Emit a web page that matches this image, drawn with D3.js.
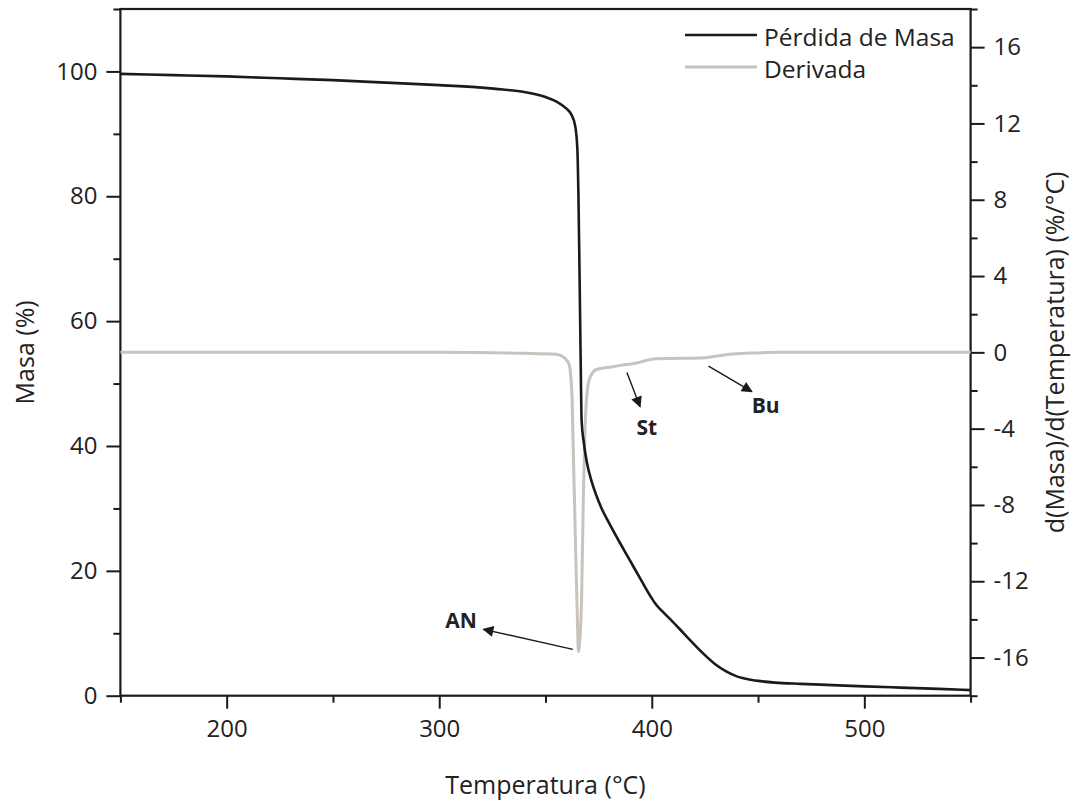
<!DOCTYPE html>
<html>
<head>
<meta charset="utf-8">
<script src="https://cdn.jsdelivr.net/npm/d3@7"></script>
<style>
  body { margin: 0; background: #fff; }
  text { font-family: "Open Sans", sans-serif; fill: #222; }
</style>
</head>
<body>
<svg id="chart" width="1074" height="807"></svg>
<script>
// curva de pérdida de masa (TGA)
var v_MassT = [150, 175, 200, 225, 250, 275, 300, 320, 330, 340, 350, 355, 360, 362, 364, 365, 365.5, 366, 366.5, 367,
               368, 369.5, 372, 376, 380, 385, 390, 395, 400, 402, 405, 410, 415, 420, 425, 430, 435, 440, 446, 452,
               458, 470, 485, 500, 517, 535, 550];
var v_MassV = [99.6, 99.4, 99.2, 98.9, 98.6, 98.2, 97.8, 97.4, 97.1, 96.7, 95.9, 95.2, 94.0, 93.2, 91.2, 87.5, 80, 68, 55, 44,
               40.6, 37.3, 34.0, 30.3, 27.6, 24.5, 21.5, 18.5, 15.6, 14.6, 13.5, 11.8, 10.0, 8.2, 6.5, 5.0, 3.9, 3.1, 2.6, 2.3,
               2.1, 1.9, 1.7, 1.5, 1.3, 1.1, 0.9];

// derivada (DTG)
var v_DerivT = [150, 200, 250, 300, 340, 355, 359, 361, 362, 362.5, 363, 364, 365, 365.5, 366, 367, 367.8, 368.6, 369.4, 371,
                374, 380, 386, 391, 395, 399, 402, 410, 423, 430, 438, 450, 460, 500, 550];
var v_DerivV = [0, 0, 0, 0, -0.05, -0.1, -0.3, -0.6, -1.4, -2.4, -4.8, -9.5, -14.0, -15.7, -15.3, -12.8, -7.6, -4.1, -2.3, -1.3,
                -0.9, -0.78, -0.67, -0.6, -0.5, -0.38, -0.33, -0.32, -0.3, -0.2, -0.09, -0.03, 0, 0, 0];

// ticks
var v_XMajor  = [200, 300, 400, 500];
var v_XMinor  = [150, 250, 350, 450, 550];
var v_YLMajor = [0, 20, 40, 60, 80, 100];
var v_YLMinor = [10, 30, 50, 70, 90, 110];
var v_YRMajor = [-16, -12, -8, -4, 0, 4, 8, 12, 16];
var v_YRMinor = [-18, -14, -10, -6, -2, 2, 6, 10, 14, 18];

// anotaciones (en unidades de temperatura / derivada)
var v_AnnoLabel = ["AN", "St", "Bu"];
var v_AnnoTail  = [[362.9, -15.57], [388.3, -1.05], [426.7, -0.72]];
var v_AnnoHead  = [[320.8, -14.52], [394.5, -2.85], [447.1, -2.06]];
var v_AnnoText  = [[310.3, -14.45], [397.7, -4.33], [453.6, -3.18]];

var v_Legend = ["Pérdida de Masa", "Derivada"];

var v_Black = "#1a1a1a";
var v_Grey  = "#c9c3bd";

var v_SVG = d3.select("#chart");
var v_X   = d3.scaleLinear().domain([150, 550]).range([120.4, 970.6]);
var v_YL  = d3.scaleLinear().domain([0, 110]).range([695.7, 9]);
var v_YR  = d3.scaleLinear().domain([-18, 18]).range([695.7, 9]);

var v_Left = 120.4, v_Right = 970.6, v_Top = 9, v_Bottom = 695.7;

// etiqueta con guion normal, como en el original
function plainNum(d)
{
    return String(d);
}

function styleAxis(g)
{
    g.selectAll("path.domain").remove();
    g.selectAll("line").attr("stroke", v_Black).attr("stroke-width", 2);
    g.selectAll("text").style("font-size", "24px").attr("fill", "#222");
}

// ejes
v_SVG.append("g").attr("transform", "translate(0," + v_Bottom + ")")
    .call(d3.axisBottom(v_X).tickValues(v_XMajor).tickSize(13).tickPadding(11).tickFormat(plainNum))
    .call(styleAxis);
v_SVG.append("g").attr("transform", "translate(0," + v_Bottom + ")")
    .call(d3.axisBottom(v_X).tickValues(v_XMinor).tickSize(7).tickFormat(""))
    .call(styleAxis);

v_SVG.append("g").attr("transform", "translate(" + v_Left + ",0)")
    .call(d3.axisLeft(v_YL).tickValues(v_YLMajor).tickSize(14).tickPadding(9).tickFormat(plainNum))
    .call(styleAxis);
v_SVG.append("g").attr("transform", "translate(" + v_Left + ",0)")
    .call(d3.axisLeft(v_YL).tickValues(v_YLMinor).tickSize(7).tickFormat(""))
    .call(styleAxis);

v_SVG.append("g").attr("transform", "translate(" + v_Right + ",0)")
    .call(d3.axisRight(v_YR).tickValues(v_YRMajor).tickSize(14).tickPadding(9).tickFormat(plainNum))
    .call(styleAxis);
v_SVG.append("g").attr("transform", "translate(" + v_Right + ",0)")
    .call(d3.axisRight(v_YR).tickValues(v_YRMinor).tickSize(7).tickFormat(""))
    .call(styleAxis);

// marco
v_SVG.append("rect")
    .attr("x", v_Left).attr("y", v_Top)
    .attr("width", v_Right - v_Left).attr("height", v_Bottom - v_Top)
    .attr("fill", "none").attr("stroke", v_Black).attr("stroke-width", 2.2);

// curvas
var v_Plot = v_SVG.append("g");

var v_DerivLine = d3.line()
    .x(function (d, i) { return v_X(v_DerivT[i]); })
    .y(function (d) { return v_YR(d); })
    .curve(d3.curveMonotoneX);
v_Plot.append("path")
    .attr("d", v_DerivLine(v_DerivV))
    .attr("fill", "none").attr("stroke", v_Grey).attr("stroke-width", 3);

var v_MassLine = d3.line()
    .x(function (d, i) { return v_X(v_MassT[i]); })
    .y(function (d) { return v_YL(d); })
    .curve(d3.curveMonotoneX);
v_Plot.append("path")
    .attr("d", v_MassLine(v_MassV))
    .attr("fill", "none").attr("stroke", v_Black).attr("stroke-width", 2.6);

// flechas
v_SVG.append("defs").append("marker")
    .attr("id", "arrow")
    .attr("viewBox", "0 0 10 10")
    .attr("refX", 9).attr("refY", 5)
    .attr("markerWidth", 18).attr("markerHeight", 11)
    .attr("markerUnits", "userSpaceOnUse")
    .attr("orient", "auto")
    .append("path").attr("d", "M0,0 L10,5 L0,10 Z").attr("fill", v_Black);

for (let i = 0; i < v_AnnoLabel.length; i++)
{
    v_SVG.append("line")
        .attr("x1", v_X(v_AnnoTail[i][0])).attr("y1", v_YR(v_AnnoTail[i][1]))
        .attr("x2", v_X(v_AnnoHead[i][0])).attr("y2", v_YR(v_AnnoHead[i][1]))
        .attr("stroke", v_Black).attr("stroke-width", 1.4)
        .attr("marker-end", "url(#arrow)");

    v_SVG.append("text")
        .attr("x", v_X(v_AnnoText[i][0])).attr("y", v_YR(v_AnnoText[i][1]))
        .attr("text-anchor", "middle")
        .style("font-size", "21px").style("font-weight", "bold")
        .text(v_AnnoLabel[i]);
}

// leyenda
var v_LegColor = [v_Black, v_Grey];
var v_LegY     = [35, 67];
for (let i = 0; i < v_Legend.length; i++)
{
    v_SVG.append("line")
        .attr("x1", 685).attr("x2", 757)
        .attr("y1", v_LegY[i]).attr("y2", v_LegY[i])
        .attr("stroke", v_LegColor[i]).attr("stroke-width", i == 0 ? 2.6 : 3);
    v_SVG.append("text")
        .attr("x", 764).attr("y", v_LegY[i] + 11)
        .style("font-size", "24.5px")
        .text(v_Legend[i]);
}

// títulos de ejes
v_SVG.append("text")
    .attr("x", (v_Left + v_Right) / 2).attr("y", 794)
    .attr("text-anchor", "middle").style("font-size", "25px")
    .text("Temperatura (°C)");

v_SVG.append("text")
    .attr("transform", "translate(33.5," + ((v_Top + v_Bottom) / 2) + ") rotate(-90)")
    .attr("text-anchor", "middle").style("font-size", "25px")
    .text("Masa (%)");

v_SVG.append("text")
    .attr("transform", "translate(1064," + ((v_Top + v_Bottom) / 2) + ") rotate(-90)")
    .attr("text-anchor", "middle").style("font-size", "25px")
    .text("d(Masa)/d(Temperatura) (%/°C)");
</script>
</body>
</html>
